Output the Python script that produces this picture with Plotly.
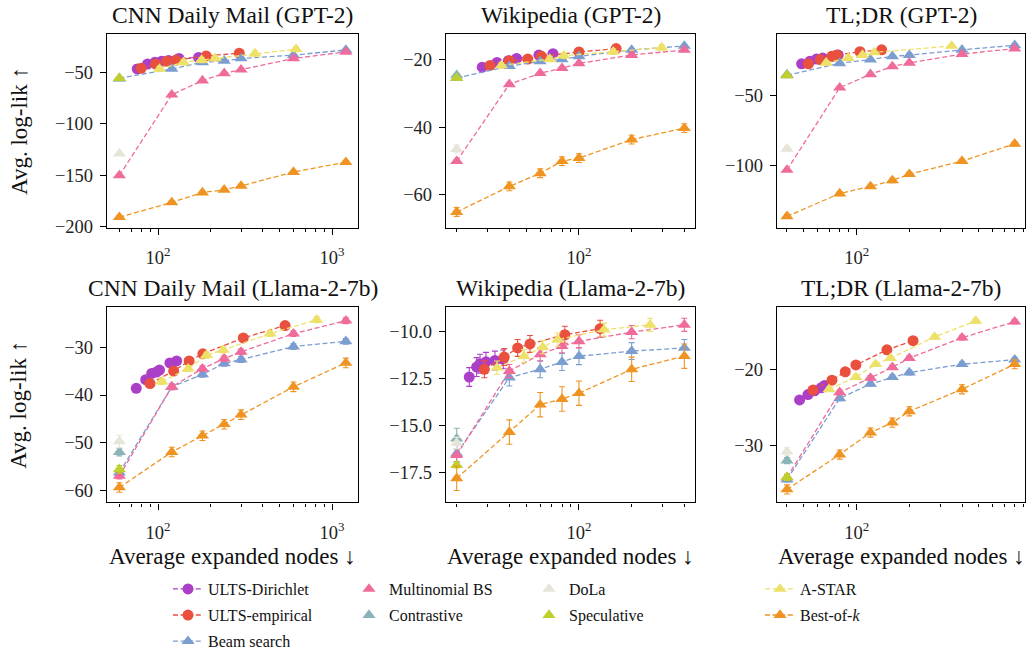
import plotly.graph_objects as go

# ---------------------------------------------------------------------------
# Data: average log-likelihood vs. average number of expanded nodes
# ---------------------------------------------------------------------------
series_names = ["ULTS-Dirichlet", "ULTS-empirical", "Beam search", "Multinomial BS",
                "Contrastive", "DoLa", "Speculative", "A-STAR", "Best-of-k"]

# CNN Daily Mail, GPT-2
cnn_gpt2 = {
    "ULTS-Dirichlet": ([76, 87, 96, 105, 115, 132, 171], [-46.8, -42.0, -40.4, -39.2, -38.5, -36.6, -35.6]),
    "ULTS-empirical": ([80, 97, 112, 127, 189, 293], [-46.2, -42.0, -39.4, -38.2, -34.1, -31.5]),
    "Beam search": ([60, 120, 180, 240, 300, 600, 1200], [-55.8, -46.8, -40.4, -38.9, -36.6, -33.4, -28.3]),
    "Multinomial BS": ([60, 120, 180, 240, 300, 600, 1200], [-150.2, -71.8, -58.1, -51.0, -47.5, -36.6, -30.2]),
    "Contrastive": ([60], [-56.5]),
    "DoLa": ([60], [-129.0]),
    "Speculative": ([60], [-55.8]),
    "A-STAR": ([102, 140, 178, 213, 361, 621], [-46.8, -40.4, -38.2, -36.6, -31.8, -27.6]),
    "Best-of-k": ([60, 120, 180, 240, 300, 600, 1200], [-190.8, -176.4, -166.8, -164.2, -160.4, -146.9, -137.3]),
}
cnn_gpt2_err = {"ULTS-Dirichlet": 0.8, "ULTS-empirical": 0.8, "Beam search": 0.8, "Multinomial BS": 1.0,
                "Contrastive": 1.0, "DoLa": 1.5, "Speculative": 1.0, "A-STAR": 2.5, "Best-of-k": 1.5}

# Wikipedia, GPT-2
wiki_gpt2 = {
    "ULTS-Dirichlet": ([28, 34, 39.5, 44, 59, 71], [-22.2, -20.8, -20.3, -19.6, -18.6, -18.2]),
    "ULTS-empirical": ([31, 40, 51, 61, 100, 163], [-21.7, -20.3, -19.8, -19.0, -17.7, -16.7]),
    "Beam search": ([20, 40, 60, 80, 100, 200, 400], [-25.4, -21.9, -20.5, -19.9, -19.0, -17.1, -15.9]),
    "Multinomial BS": ([20, 40, 60, 80, 100, 200, 400], [-50.1, -27.3, -24.0, -22.5, -21.1, -18.6, -17.1]),
    "Contrastive": ([20], [-24.6]),
    "DoLa": ([20], [-46.5]),
    "Speculative": ([20], [-25.4]),
    "A-STAR": ([36, 68, 82, 157, 297], [-21.7, -19.8, -18.8, -17.6, -16.4]),
    "Best-of-k": ([20, 40, 60, 80, 100, 200, 400], [-65.2, -57.6, -53.7, -50.1, -49.2, -43.7, -40.3]),
}
wiki_gpt2_err = {"ULTS-Dirichlet": 0.4, "ULTS-empirical": 0.4, "Beam search": 0.4, "Multinomial BS": 0.5,
                 "Contrastive": 0.5, "DoLa": 1.2, "Speculative": 0.5, "A-STAR": 0.8, "Best-of-k": 1.3}

# TL;DR, GPT-2
tldr_gpt2 = {
    "ULTS-Dirichlet": ([48.5, 54, 59, 64, 73.5, 78.5], [-27.4, -25.6, -24.0, -23.3, -22.1, -21.2]),
    "ULTS-empirical": ([53, 62, 72, 77, 104.5, 139], [-27.4, -24.4, -22.1, -21.2, -18.8, -17.4]),
    "Beam search": ([40, 80, 120, 160, 200, 400, 800], [-35.6, -27.0, -24.4, -22.1, -21.2, -17.4, -14.2]),
    "Multinomial BS": ([40, 80, 120, 160, 200, 400, 800], [-103.0, -44.4, -34.9, -29.3, -26.7, -20.5, -16.5]),
    "Contrastive": ([40], [-35.0]),
    "DoLa": ([40], [-87.9]),
    "Speculative": ([40], [-35.6]),
    "A-STAR": ([67, 89.5, 108, 126, 349], [-26.7, -23.3, -21.2, -19.3, -14.7]),
    "Best-of-k": ([40, 80, 120, 160, 200, 400, 800], [-136.0, -119.8, -114.7, -110.5, -106.0, -96.7, -84.4]),
}
tldr_gpt2_err = {"ULTS-Dirichlet": 0.8, "ULTS-empirical": 0.8, "Beam search": 0.8, "Multinomial BS": 1.0,
                 "Contrastive": 1.0, "DoLa": 1.5, "Speculative": 1.0, "A-STAR": 1.2, "Best-of-k": 1.5}

# CNN Daily Mail, Llama-2-7b
cnn_llama = {
    "ULTS-Dirichlet": ([75, 85, 92, 98, 102, 117, 128], [-38.6, -36.8, -35.5, -35.2, -34.8, -33.3, -32.9]),
    "ULTS-empirical": ([90, 123, 151, 181, 309, 537], [-37.6, -35.0, -32.9, -31.4, -28.1, -25.5]),
    "Beam search": ([60, 120, 180, 240, 300, 600, 1200], [-56.2, -38.3, -35.7, -33.4, -32.6, -29.9, -28.8]),
    "Multinomial BS": ([60, 120, 180, 240, 300, 600, 1200], [-56.9, -38.3, -34.5, -32.4, -31.0, -27.2, -24.5]),
    "Contrastive": ([60], [-51.9]),
    "DoLa": ([60], [-49.7]),
    "Speculative": ([60], [-55.5]),
    "A-STAR": ([105, 149, 190, 237, 440, 816], [-37.2, -34.5, -31.7, -30.6, -27.2, -24.3]),
    "Best-of-k": ([60, 120, 180, 240, 300, 600, 1200], [-59.3, -51.9, -48.5, -46.1, -44.1, -38.3, -33.3]),
}
cnn_llama_err = {"ULTS-Dirichlet": 0.5, "ULTS-empirical": 0.5, "Beam search": 0.6, "Multinomial BS": 0.6,
                 "Contrastive": 0.8, "DoLa": 1.3, "Speculative": 0.8, "A-STAR": 0.6, "Best-of-k": 1.0}

# Wikipedia, Llama-2-7b
wiki_llama = {
    "ULTS-Dirichlet": ([23.6, 26, 27.2, 29.4, 33.1, 36.9], [-12.43, -11.9, -11.72, -11.62, -11.55, -11.49]),
    "ULTS-empirical": ([28.8, 37.4, 44.6, 52.5, 83, 132], [-12.02, -11.37, -10.88, -10.67, -10.18, -9.86]),
    "Beam search": ([20, 40, 60, 80, 100, 200, 400], [-16.5, -12.46, -12.02, -11.63, -11.32, -11.05, -10.88]),
    "Multinomial BS": ([20, 40, 60, 80, 100, 200, 400], [-16.59, -12.11, -11.23, -10.79, -10.53, -10.04, -9.65]),
    "Contrastive": ([20], [-15.71]),
    "DoLa": ([20], [-15.94]),
    "Speculative": ([20], [-17.12]),
    "A-STAR": ([34, 48.5, 62, 75.5, 139, 255], [-11.93, -11.32, -10.84, -10.44, -9.91, -9.65]),
    "Best-of-k": ([20, 40, 60, 80, 100, 200, 400], [-17.82, -15.36, -13.9, -13.6, -13.29, -12.02, -11.32]),
}
wiki_llama_err = {"ULTS-Dirichlet": 0.5, "ULTS-empirical": 0.45, "Beam search": 0.45, "Multinomial BS": 0.35,
                  "Contrastive": 0.55, "DoLa": 0.3, "Speculative": 0.15, "A-STAR": 0.35, "Best-of-k": 0.65}

# TL;DR, Llama-2-7b
tldr_llama = {
    "ULTS-Dirichlet": ([47.2, 52.7, 57.5, 62.8, 65.6], [-24.0, -23.3, -22.8, -22.4, -22.1]),
    "ULTS-empirical": ([56.3, 72.3, 86.1, 99, 149, 210], [-22.7, -21.4, -20.3, -19.4, -17.4, -16.2]),
    "Beam search": ([40, 80, 120, 160, 200, 400, 800], [-34.5, -23.8, -21.9, -21.0, -20.4, -19.3, -18.7]),
    "Multinomial BS": ([40, 80, 120, 160, 200, 400, 800], [-34.2, -23.0, -21.1, -19.7, -18.5, -15.8, -13.7]),
    "Contrastive": ([40], [-32.0]),
    "DoLa": ([40], [-30.8]),
    "Speculative": ([40], [-34.2]),
    "A-STAR": ([69.5, 99, 128.5, 156, 279, 479], [-22.6, -21.0, -19.3, -18.5, -15.7, -13.6]),
    "Best-of-k": ([40, 80, 120, 160, 200, 400, 800], [-35.8, -31.2, -28.3, -27.0, -25.5, -22.6, -19.3]),
}
tldr_llama_err = {"ULTS-Dirichlet": 0.3, "ULTS-empirical": 0.3, "Beam search": 0.3, "Multinomial BS": 0.3,
                  "Contrastive": 0.4, "DoLa": 0.5, "Speculative": 0.4, "A-STAR": 0.3, "Best-of-k": 0.6}

panel_titles = ["CNN Daily Mail (GPT-2)", "Wikipedia (GPT-2)", "TL;DR (GPT-2)",
                "CNN Daily Mail (Llama-2-7b)", "Wikipedia (Llama-2-7b)", "TL;DR (Llama-2-7b)"]
panel_data = [cnn_gpt2, wiki_gpt2, tldr_gpt2, cnn_llama, wiki_llama, tldr_llama]
panel_err = [cnn_gpt2_err, wiki_gpt2_err, tldr_gpt2_err, cnn_llama_err, wiki_llama_err, tldr_llama_err]

y_tickvals = [[-50, -100, -150, -200], [-20, -40, -60], [-50, -100],
              [-30, -40, -50, -60], [-10.0, -12.5, -15.0, -17.5], [-20, -30]]
y_tickfmt = ["{:.0f}", "{:.0f}", "{:.0f}", "{:.0f}", "{:.1f}", "{:.0f}"]

# ---------------------------------------------------------------------------
# Styling
# ---------------------------------------------------------------------------
colors = {
    "ULTS-Dirichlet": "#AC3FC8",
    "ULTS-empirical": "#E9503D",
    "Beam search": "#7C9DD0",
    "Multinomial BS": "#EE6B9B",
    "Contrastive": "#8BB3B8",
    "DoLa": "#E7E5DA",
    "Speculative": "#BFCF2B",
    "A-STAR": "#EDE169",
    "Best-of-k": "#EF9422",
}
symbols = {n: ("circle" if n.startswith("ULTS") else "triangle-up") for n in series_names}
legend_label = {n: n for n in series_names}
legend_label["Best-of-k"] = "Best-of-<i>k</i>"
single_points = {"Contrastive", "DoLa", "Speculative"}

W, H = 1036, 666
FONT = "Liberation Serif"
col_px = [(107, 358), (446, 695), (777, 1025)]
row_px = [(35, 231), (312, 510)]
x_ranges = [(1.707, 3.149), (1.240, 2.663), (1.545, 2.962)]
y_ranges = [(-200.8, -13.3), (-69.8, -12.5), (-144.0, -6.5),
            (-62.4, -21.7), (-19.1, -8.72), (-37.5, -11.8)]
x_major = [[100, 1000], [100], [100]]
x_minor = [[60, 70, 80, 90, 200, 300, 400, 500, 600, 700, 800, 900],
           [20, 30, 40, 50, 60, 70, 80, 90, 200, 300, 400],
           [40, 50, 60, 70, 80, 90, 200, 300, 400, 500, 600, 700, 800, 900]]
dash = "5px,2.6px"

# legend grid: one legend box per entry, laid out column by column
legend_cols_px = [168, 349, 529, 760]
legend_rows_px = [598, 624.5, 651]
legend_slot = {
    "ULTS-Dirichlet": (0, 0), "ULTS-empirical": (0, 1), "Beam search": (0, 2),
    "Multinomial BS": (1, 0), "Contrastive": (1, 1),
    "DoLa": (2, 0), "Speculative": (2, 1),
    "A-STAR": (3, 0), "Best-of-k": (3, 1),
}
legend_id = {n: ("legend" if i == 0 else "legend%d" % (i + 1)) for i, n in enumerate(series_names)}

fig = go.Figure()
layout = {}
annotations = []

for p in range(6):
    r, c = divmod(p, 3)
    ax = "" if p == 0 else str(p + 1)
    xref, yref = "x" + ax, "y" + ax
    x0, x1 = col_px[c]
    y0, y1 = row_px[r]
    layout["xaxis" + ax] = dict(
        domain=[x0 / W, x1 / W], anchor=yref, type="log", range=list(x_ranges[c]),
        tickmode="array", tickvals=x_major[c],
        ticktext=["10<sup>%d</sup>" % len(str(v)[1:]) for v in x_major[c]],
        ticks="outside", ticklen=6, tickwidth=1.2, tickcolor="black", ticklabelstandoff=7,
        minor=dict(tickmode="array", tickvals=x_minor[c], ticks="outside",
                   ticklen=3.5, tickwidth=1.0, tickcolor="black"),
        showline=True, linecolor="black", linewidth=1.4, mirror=True,
        showgrid=False, zeroline=False,
        tickfont=dict(family=FONT, size=18.5, color="#222"),
    )
    layout["yaxis" + ax] = dict(
        domain=[1 - y1 / H, 1 - y0 / H], anchor=xref, range=list(y_ranges[p]),
        tickmode="array", tickvals=y_tickvals[p],
        ticktext=["\u2212" + y_tickfmt[p].format(abs(v)) for v in y_tickvals[p]],
        ticks="outside", ticklen=6, tickwidth=1.2, tickcolor="black", ticklabelstandoff=3,
        showline=True, linecolor="black", linewidth=1.4, mirror=True,
        showgrid=False, zeroline=False,
        tickfont=dict(family=FONT, size=18.5, color="#222"),
    )
    # panel title
    annotations.append(dict(
        text=panel_titles[p], xref="paper", yref="paper",
        x=(x0 + x1) / 2 / W, y=1 - (y0 - 20) / H, xanchor="center", yanchor="middle",
        showarrow=False, font=dict(family=FONT, size=23.5, color="#111")))

    data = panel_data[p]
    errs = panel_err[p]
    for name in series_names:
        xs, ys = data[name]
        col = colors[name]
        is_single = name in single_points
        show_leg = (p == 0)
        msize = 11 if symbols[name] == "circle" else 11.5
        err = dict(type="constant", value=errs[name], color=col, thickness=1.1, width=3)
        if name == "Multinomial BS":
            # dashed connecting line drawn separately so the legend shows only the marker
            fig.add_trace(go.Scatter(
                x=xs, y=ys, xaxis=xref, yaxis=yref, mode="lines",
                line=dict(color=col, width=1.3, dash=dash),
                showlegend=False, hoverinfo="skip"))
            fig.add_trace(go.Scatter(
                x=xs, y=ys, xaxis=xref, yaxis=yref, mode="markers", name=legend_label[name],
                marker=dict(symbol=symbols[name], size=msize, color=col),
                error_y=err, legend=legend_id[name], showlegend=show_leg))
        else:
            fig.add_trace(go.Scatter(
                x=xs, y=ys, xaxis=xref, yaxis=yref,
                mode="markers" if is_single else "lines+markers",
                name=legend_label[name],
                line=dict(color=col, width=1.3, dash=dash),
                marker=dict(symbol=symbols[name], size=msize, color=col),
                error_y=err, legend=legend_id[name], showlegend=show_leg))

# axis titles
for r in range(2):
    y0, y1 = row_px[r]
    annotations.append(dict(
        text="Avg. log-lik \u2191", xref="paper", yref="paper", x=19 / W, y=1 - (y0 + y1) / 2 / H,
        xanchor="center", yanchor="middle", textangle=-90, showarrow=False,
        font=dict(family=FONT, size=23, color="#111")))
for c in range(3):
    x0, x1 = col_px[c]
    annotations.append(dict(
        text="Average expanded nodes \u2193", xref="paper", yref="paper",
        x=(x0 + x1) / 2 / W, y=1 - 565 / H, xanchor="center", yanchor="middle",
        showarrow=False, font=dict(family=FONT, size=23, color="#111")))

for name in series_names:
    ci, ri = legend_slot[name]
    layout[legend_id[name]] = dict(
        orientation="v", xanchor="left", yanchor="middle",
        x=legend_cols_px[ci] / W, y=1 - legend_rows_px[ri] / H,
        font=dict(family=FONT, size=16, color="#111"), bgcolor="rgba(0,0,0,0)",
        itemwidth=30)

fig.update_layout(
    width=W, height=H, margin=dict(l=0, r=0, t=0, b=0),
    plot_bgcolor="white", paper_bgcolor="white",
    annotations=annotations, **layout)

fig.write_html("out.html")
